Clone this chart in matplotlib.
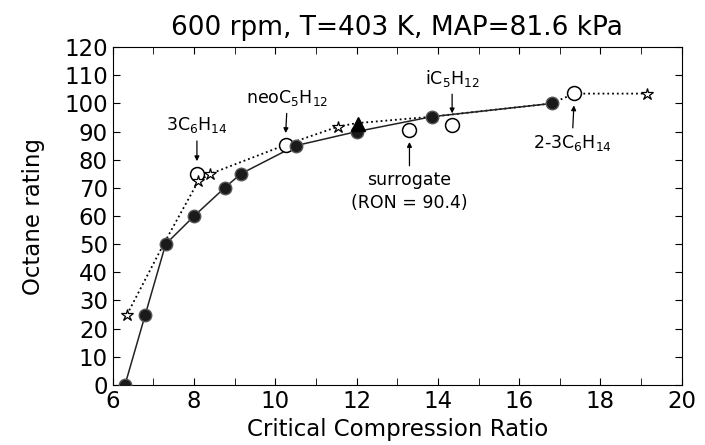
import matplotlib
matplotlib.use('Agg')
import matplotlib.pyplot as plt
from matplotlib.ticker import MultipleLocator

# measured points (solid line, filled circles)
cr_meas = [6.3, 6.8, 7.3, 8.0, 8.75, 9.15, 10.5, 12.0, 13.85, 16.8]
on_meas = [0, 25, 50, 60, 70, 75, 85, 90, 95.3, 100]

# dotted curve path
cr_dot = [6.35, 7.25, 8.1, 8.4, 10.25, 11.55, 12.0, 13.85, 16.8, 17.35, 19.15]
on_dot = [25, 50, 72.3, 75, 85.3, 91.8, 93, 95.3, 100, 103.5, 103.5]

# star markers
cr_star = [6.35, 8.1, 8.4, 11.55, 19.15]
on_star = [25, 72.3, 75, 91.8, 103.5]

# open circles (pure components + surrogate)
cr_open = [8.07, 10.25, 13.3, 14.35, 17.35]
on_open = [75, 85.3, 90.6, 92.3, 103.8]

# triangle
cr_tri = [12.03]
on_tri = [92.8]

plt.rcParams['font.family'] = 'DejaVu Sans'
plt.rcParams['mathtext.fontset'] = 'dejavusans'

fig = plt.figure(figsize=(7.05, 4.45), dpi=100)
ax = fig.add_axes([0.160, 0.135, 0.807, 0.759])

ax.plot(cr_dot, on_dot, ':', color='black', lw=1.3, zorder=2)
ax.plot(cr_meas, on_meas, '-', color='#222222', lw=1.1, zorder=2)
ax.plot(cr_meas, on_meas, 'o', color='#1a1a1a', ms=9, mec='#555555', zorder=4)
ax.plot(cr_open, on_open, 'o', mfc='white', mec='black', ms=10, mew=1.1, zorder=3)
ax.plot(cr_star, on_star, '*', mfc='white', mec='black', ms=9, mew=0.9, zorder=5)
ax.plot(cr_tri, on_tri, '^', color='black', ms=10, zorder=5)

arr = dict(arrowstyle='-|>', color='black', lw=0.9, mutation_scale=7)
fs_ann = 12.5
ax.annotate('3C$_6$H$_{14}$', xy=(8.07, 78.5), xytext=(8.07, 92.2),
            ha='center', va='center', fontsize=fs_ann, arrowprops=arr)
ax.annotate('neoC$_5$H$_{12}$', xy=(10.25, 88.5), xytext=(10.3, 102),
            ha='center', va='center', fontsize=fs_ann, arrowprops=arr)
ax.annotate('iC$_5$H$_{12}$', xy=(14.35, 95.5), xytext=(14.35, 109),
            ha='center', va='center', fontsize=fs_ann, arrowprops=arr)
ax.annotate('2-3C$_6$H$_{14}$', xy=(17.35, 100.3), xytext=(17.3, 85.8),
            ha='center', va='center', fontsize=fs_ann, arrowprops=arr)
ax.annotate('surrogate', xy=(13.3, 87.3), xytext=(13.3, 72.7),
            ha='center', va='center', fontsize=fs_ann, arrowprops=arr)
ax.text(13.3, 64.5, '(RON = 90.4)', ha='center', va='center', fontsize=fs_ann)

ax.set_xlim(6, 20)
ax.set_ylim(0, 120)
ax.xaxis.set_major_locator(MultipleLocator(2))
ax.xaxis.set_minor_locator(MultipleLocator(1))
ax.yaxis.set_major_locator(MultipleLocator(10))
ax.tick_params(which='both', direction='in', top=True, right=True, labelsize=16.5)
ax.tick_params(which='major', length=5)
ax.tick_params(which='minor', length=5)

ax.set_xlabel('Critical Compression Ratio', fontsize=16.5, labelpad=4)
ax.set_ylabel('Octane rating', fontsize=16.5, labelpad=14)
ax.set_title('600 rpm, T=403 K, MAP=81.6 kPa', fontsize=19, pad=9)

fig.savefig('out.png', dpi=100)
